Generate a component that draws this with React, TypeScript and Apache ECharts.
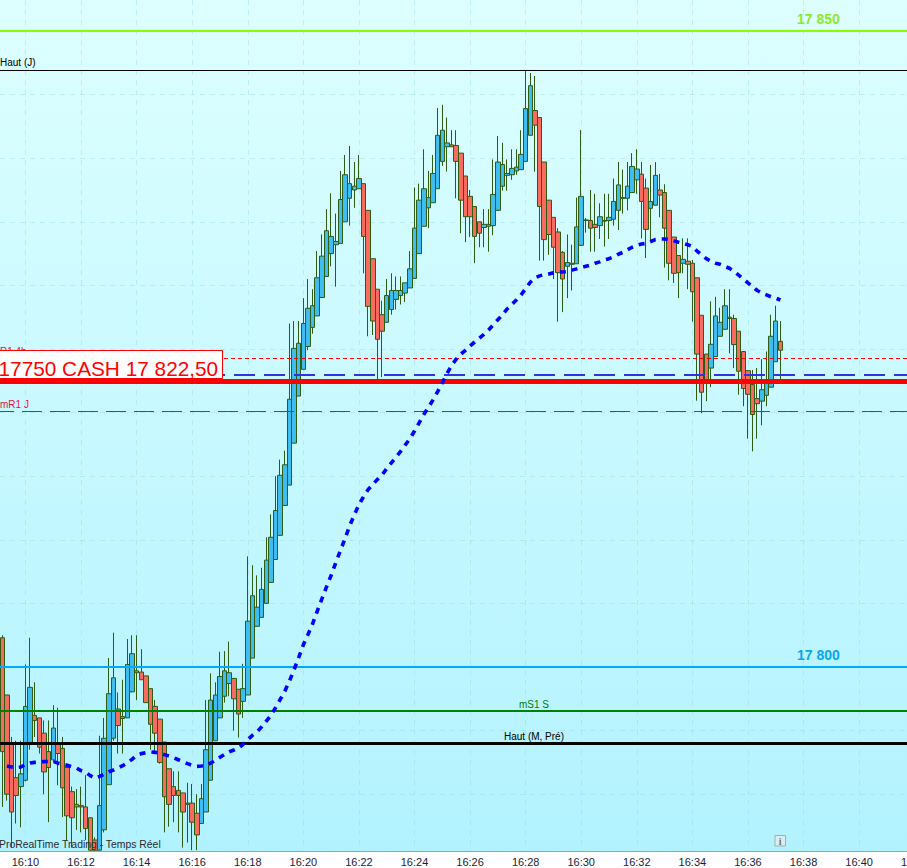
import React, { useEffect, useRef } from "react";
import * as echarts from "echarts";

const BASE_PRICE = 17800;

// Every row: open, close, low, high, as points above or below BASE_PRICE; one row per 10 seconds from 16:09:10
const candleRows: number[][] = [
  [2.3,-6.65,-11,2.5],[-2.2,-10,-10.5,-2.2],[-6,-11.4,-14.2,-5.5],[-8.7,-10.1,-12.3,-5.8],[-9.4,-8.4,-12.6,-5.8],
  [-8.9,-3.1,-9,0.2],[-6,-1.6,-6.5,2.3],[-3.8,-4.2,-5.5,-1.2],[-4,-6.3,-6.8,-4],[-5.2,-8.25,-10,-4.2],
  [-6.65,-7.9,-12.2,-4.2],[-7.3,-4.8,-7.5,-3],[-6,-6.8,-9.3,-3.2],[-6.4,-9.5,-11.8,-5.5],[-7.9,-11.7,-13.6,-7.9],
  [-9.8,-11.85,-14.2,-9.4],[-10.8,-11,-12.8,-9.6],[-10.9,-11,-13,-9.4],[-11,-12.7,-13.6,-8.5],[-11.85,-14.4,-14.45,-11.85],
  [-13.6,-14.4,-14.45,-13.4],[-14.4,-10.9,-14.45,-5.4],[-12.8,-5.6,-13,-4],[-9.25,-2.1,-9.25,0.7],[-5.6,-0.85,-5.8,2.7],
  [-3.3,-4.6,-6.8,-2],[-3.9,-4.05,-6.8,-1],[-4,0.2,-4,2.2],[-1.95,1.05,-2,2.5],[-0.3,-0.45,-2.6,2.5],
  [-0.4,-1,-1,1.4],[-0.7,-2.8,-2.8,-0.7],[-1.7,-4.5,-6.5,-1.7],[-3.1,-5.2,-6.8,-2.6],[-4.1,-7.5,-7.6,-4.1],
  [-5.9,-10.2,-13,-5.9],[-8,-10.8,-12.55,-8],[-9.4,-10.1,-12.2,-8.2],[-9.7,-10.1,-13,-8.2],[-9.9,-11.4,-14.2,-9.9],
  [-10.7,-10.8,-13.8,-9.1],[-10.7,-12.2,-14.4,-9.2],[-11.5,-13.2,-14.4,-10],[-12.3,-10.35,-12.3,-9.2],[-11.4,-6.5,-11.4,-2.6],
  [-8.9,-2.6,-8.9,-0.5],[-5.8,-2.2,-5.8,-1.2],[-4,-0.75,-4,1.2],[-2.3,-0.3,-2.8,1.25],[-1.3,-0.45,-2.3,2],
  [-0.9,-2.5,-5,-0.9],[-1.75,-3.7,-5.55,-1.75],[-2.7,-1.7,-4,0.25],[-2.2,3.6,-2.2,8.7],[0.7,5.6,0.7,8],
  [3.2,4.7,3.2,7.2],[3.9,6.1,3.9,7.8],[5,8.4,5,10.2],[6.65,10.2,6.65,12],[8.45,12.3,8.45,15],
  [10.35,15.07,10.35,16.3],[12.7,15.9,12.7,17],[14.3,21.05,14.3,27],[17.6,25.05,17.6,27.2],[21.3,25.45,21.3,27.2],
  [23.4,27,23.4,29],[25.2,28.2,24.9,30.5],[26.7,28.4,26.2,29.7],[27.6,30.6,27.6,32.7],[29.05,32.3,29.05,34],
  [30.7,34.3,30.7,36],[32.5,33.85,31.5,37.24],[33.2,33.45,29.9,35.65],[33.3,36.75,33.3,39],[35,38.7,35,40.25],
  [36.85,38,34.7,40.96],[37.5,37.8,36.1,39.7],[37.6,38.4,37.6,40.25],[38,33.85,30.95,38],[35.9,28.35,26,35.9],
  [32.1,27.2,26.1,32.1],[29.7,25.76,22.6,29.7],[27.7,26.4,22.8,28.8],[27.1,29.2,27.1,30.5],[28.1,29.6,27.7,30.95],
  [28.9,29.6,28.1,30.7],[29.2,29.6,28.5,30.7],[29.4,30.2,28.7,30.2],[29.8,31.3,29.8,32.7],[30.55,34.5,30.55,37.7],
  [32.5,36.7,32.5,38],[34.65,37.6,34.65,40.7],[36.1,36.9,34.5,39],[36.5,38.8,36.5,40.25],[37.6,41.8,37.6,43.95],
  [39.75,42.2,39.4,44.2],[40.9,41.2,38.95,43.2],[41.05,40.9,40.9,42.2],[41,39.75,36.85,42.2],[40.4,36.7,34.1,40.4],
  [38.6,35.4,33.4,38.6],[37,35.4,33.8,37.5],[36.2,33.85,31.75,36.2],[35,34.1,33,35],[34.55,34.8,33,36],
  [34.65,34.8,32.65,36],[34.7,37.15,33.95,39.9],[35.9,39.7,35.9,41.75],[37.8,39.5,37.45,41.2],[38.65,38.8,37.45,39.9],
  [38.7,39.2,38.3,40.7],[39,39.3,38.7,40.7],[39.1,40.3,39.1,42.2],[39.75,43.9,39.75,46.9],[41.8,45.7,41.8,46.7],
  [43.75,42.6,38.94,46.46],[43.2,36.2,31.95,43.2],[39.7,33.6,31.95,39.7],[36.7,34,32.4,36.7],[35.35,33,30.5,35.35],
  [34.2,31,27.15,34.5],[32.6,30.5,27.9,32.7],[31.5,31.8,29,34],[31.66,31.74,29.6,33.2],[31.7,34.6,31.7,36.9],
  [33.15,37,33.15,42.2],[35.15,35.1,34.15,35.3],[35.1,34.5,32.65,37.5],[34.8,34.55,32.65,37.2],[34.7,35.4,33.65,36.45],
  [35.05,35.1,33.05,37.2],[35.1,35.35,33.65,37.2],[35.2,36.6,34.7,38.4],[35.9,37.9,34.36,39.7],[36.85,36.9,35.65,39.1],
  [36.85,37.8,35.9,39.7],[37.3,39.35,37.3,40.4],[38.3,39.15,37.2,40.7],[38.75,36.6,33.7,39.7],[37.65,34.4,32.16,38.4],
  [36.06,36.6,33.4,39.47],[36.3,38.65,36.3,39.7],[37.5,37.1,35.35,38.76],[37.3,34.5,31.4,37.95],[35.9,31.74,30.4,35.9],
  [33.8,30.95,30.2,33.8],[32.35,31,29,32.35],[31.74,32.05,30.95,33.7],[31.9,31.66,29.7,33.7],[31.74,29.5,27.15,32],
  [30.6,24.6,20.94,30.6],[27.65,21.6,19.95,27.65],[24.6,22.3,20.9,24.6],[23.5,25.37,22,28.75],[24.4,27.6,24.4,29.1],
  [26,27.1,26,28.25],[26.55,28.4,26.55,29.7],[27.5,27.4,24.65,29.7],[27.4,25.35,23.5,27.7],[26.4,23.25,21.4,26.4],
  [24.8,21.9,20.5,24.8],[23.3,21.44,17.95,23.3],[22.2,19.85,16.95,23.35],[21.1,20.7,17.95,23.5],[20.9,21.8,19,24.2],
  [21.36,22.5,20.5,24.8],[22,26,22,27.7],[24,27.2,24,28.4],[25.6,24.9,22.55,27.2],
];

// Moving average, one value per candle, same offsets; the first candle has none
const movingAverage: (number | null)[] = [
  null,-7.78,-7.86,-7.91,-7.86,-7.68,-7.55,-7.5,-7.47,-7.44,-7.42,-7.42,-7.55,-7.63,-7.73,-7.84,-7.94,-8.15,-8.28,-8.54,
  -8.75,-8.6,-8.44,-8.23,-8.1,-7.94,-7.76,-7.52,-7.26,-6.94,-6.81,-6.73,-6.68,-6.71,-6.79,-6.89,-7,-7.13,-7.29,-7.44,
  -7.6,-7.73,-7.81,-7.78,-7.73,-7.55,-7.34,-7.1,-6.87,-6.66,-6.53,-6.37,-6.08,-5.7,-5.37,-5.1,-4.7,-4.25,-3.8,-3.2,
  -2.55,-1.9,-1.1,-0.2,0.75,1.75,2.55,3.4,4.4,5.35,6.3,7.2,8.2,9.15,10.1,11.1,11.95,12.76,13.4,13.95,
  14.35,14.75,15.1,15.6,16.05,16.5,16.95,17.45,17.95,18.55,19.2,19.85,20.4,21,21.65,22.35,23.05,23.7,24.2,24.6,
  24.9,25.25,25.55,25.85,26.15,26.5,26.9,27.3,27.7,28.15,28.5,28.85,29.25,29.75,30.25,30.6,30.75,30.85,30.9,31,
  31.05,31.05,31.08,31.2,31.3,31.4,31.5,31.6,31.75,31.85,32,32.1,32.25,32.45,32.6,32.8,33,33.15,33.25,33.3,
  33.45,33.6,33.65,33.65,33.6,33.5,33.4,33.3,33.2,33.05,32.7,32.4,32.1,31.9,31.75,31.66,31.5,31.35,31.1,30.8,
  30.5,30.2,29.9,29.6,29.4,29.25,29.1,29,28.85,
];

const levelPrices = {
  line17850: 17850,
  hautJ: 17846.9,
  r14h: 17824.27,
  blueDash: 17822.96,
  cash: 17822.5,
  mR1J: 17820.09,
  line17800: 17800,
  mS1S: 17796.54,
  hautMPre: 17794,
};

const splitPrices = [17790, 17795, 17800, 17805, 17810, 17815, 17820, 17825, 17830, 17835, 17840, 17845, 17850];

const SLOT_COUNT = 198;
const categories = Array.from({ length: SLOT_COUNT }, (_, i) => {
  const secs = 16 * 3600 + 9 * 60 + 10 + i * 10;
  const hh = String(Math.floor(secs / 3600)).padStart(2, "0");
  const mm = String(Math.floor((secs % 3600) / 60)).padStart(2, "0");
  const ss = String(secs % 60).padStart(2, "0");
  return `${hh}:${mm}:${ss}`;
});

const isTick = (i: number) => i >= 5 && (i - 5) % 12 === 0;
const FONT = '"Liberation Sans", Arial, sans-serif';

export default function App() {
  const ref = useRef<HTMLDivElement>(null);
  useEffect(() => {
    if (!ref.current) return;
    const chart = echarts.init(ref.current, undefined, { renderer: "svg" });
    const level = (yAxis: number, color: string, width: number, type: any, dashOffset = 0) => ({
      yAxis,
      lineStyle: { color, width, type, dashOffset, opacity: 1 },
    });
    const label = (text: string, x: number, y: number, fill: string, size: number, extra: any = {}) => ({
      type: "text",
      z: 50,
      x,
      y,
      silent: true,
      style: { text, fill, font: `${size}px ${FONT}`, textVerticalAlign: "middle", ...extra },
    });
    chart.setOption({
      animation: false,
      grid: {
        show: true,
        outerBoundsMode: "none",
        left: 0,
        top: 0,
        width: 917,
        height: 851,
        borderWidth: 0,
        backgroundColor: new echarts.graphic.LinearGradient(0, 0, 0, 1, [
          { offset: 0, color: "#ddffff" },
          { offset: 1, color: "#b2f2ff" },
        ]),
      },
      xAxis: {
        type: "category",
        data: categories,
        boundaryGap: true,
        axisLine: { lineStyle: { color: "#9aa5ab", width: 1 } },
        axisTick: { alignWithLabel: true, length: 3, interval: (i: number) => isTick(i), lineStyle: { color: "#9aa5ab" } },
        axisLabel: {
          interval: (i: number) => isTick(i),
          formatter: (v: string) => v.slice(0, 5),
          color: "#1c1c3c",
          fontFamily: FONT,
          fontSize: 11,
          margin: 5,
          hideOverlap: false,
        },
        splitLine: {
          show: true,
          alignWithLabel: true,
          interval: (i: number) => isTick(i),
          lineStyle: { color: "rgba(150,212,222,0.4)", type: [5, 5], width: 1 },
        },
      },
      yAxis: {
        type: "value",
        min: BASE_PRICE - 14.465,
        max: BASE_PRICE + 52.437,
        axisLine: { show: false },
        axisLabel: { show: false },
        axisTick: { show: false, customValues: splitPrices },
        splitLine: { show: true, lineStyle: { color: "rgba(150,212,222,0.4)", type: [5, 5], width: 1 } },
      },
      series: [
        {
          type: "candlestick",
          name: "Cours",
          z: 2,
          barWidth: 5,
          clip: true,
          data: candleRows.map((r) => r.map((v) => BASE_PRICE + v)),
          itemStyle: {
            color: "#3dbdf0",
            color0: "#f86c60",
            borderColor: "#2d5c12",
            borderColor0: "#2d5c12",
            borderColorDoji: "#2d5c12",
            borderWidth: 1,
          },
          markLine: {
            silent: true,
            symbol: ["none", "none"],
            label: { show: false },
            z: 5,
            animation: false,
            data: [
              level(levelPrices.line17850, "#88ff00", 2, "solid"),
              level(levelPrices.hautJ, "#000000", 1, "solid"),
              level(levelPrices.r14h, "#ff0000", 1, [4, 3]),
              level(levelPrices.blueDash, "#3333dd", 2, [21, 9], 6),
              level(levelPrices.mR1J, "#c82020", 1, [20, 8], 6),
              level(levelPrices.cash, "#ff0000", 5, "solid"),
              level(levelPrices.line17800, "#00aaff", 2, "solid"),
              level(levelPrices.mS1S, "#008000", 2, "solid"),
              level(levelPrices.hautMPre, "#000000", 3, "solid"),
            ],
          },
        },
        {
          type: "line",
          name: "Moyenne",
          z: 10,
          symbol: "none",
          smooth: false,
          connectNulls: false,
          data: movingAverage.map((v) => (v === null ? null : BASE_PRICE + v)),
          lineStyle: { color: "#0000ff", width: 3.6, type: [6, 6] },
        },
      ],
      graphic: [
        label("Haut (J)", 0, 62.5, "#000000", 10),
        label("R1 4h", 0, 351, "#ee1111", 10),
        label("mR1 J", 0, 404, "#e8103a", 10),
        label("mS1 S", 534, 704, "#008000", 10, { textAlign: "center" }),
        label("Haut (M, Pré)", 534, 736, "#000000", 10, { textAlign: "center" }),
        {
          type: "text",
          z: 50,
          x: 797,
          y: 18.5,
          silent: true,
          style: { text: "17 850", fill: "#8ee82c", font: `bold 14px ${FONT}`, textVerticalAlign: "middle" },
        },
        {
          type: "text",
          z: 50,
          x: 797,
          y: 654.5,
          silent: true,
          style: { text: "17 800", fill: "#0aa6ee", font: `bold 14px ${FONT}`, textVerticalAlign: "middle" },
        },
        label("ProRealTime Trading - Temps Réel", -1, 844, "#2a2a2a", 10.4),
        {
          type: "rect",
          z: 60,
          silent: true,
          shape: { x: -2, y: 350.5, width: 224.5, height: 28 },
          style: { fill: "#ffffff", stroke: "#ff0000", lineWidth: 1 },
        },
        {
          type: "text",
          z: 61,
          x: -1.5,
          y: 368.5,
          silent: true,
          style: { text: "17750 CASH 17 822,50", fill: "#ff0000", font: `20.8px ${FONT}`, textVerticalAlign: "middle" },
        },
        {
          type: "rect",
          z: 60,
          silent: true,
          shape: { x: 775, y: 835.5, width: 10.5, height: 10.5 },
          style: { fill: "#dcecef", stroke: "#a4acac", lineWidth: 1 },
        },
        {
          type: "text",
          z: 61,
          x: 780.2,
          y: 841,
          silent: true,
          style: {
            text: "i",
            fill: "#6a7474",
            font: 'bold 10px "Liberation Serif", serif',
            textAlign: "center",
            textVerticalAlign: "middle",
          },
        },
      ],
    });
    return () => chart.dispose();
  }, []);
  return (
    <div
      ref={ref}
      style={{ position: "absolute", left: 0, top: 0, width: 907, height: 868, background: "#ffffff", overflow: "hidden" }}
    />
  );
}
